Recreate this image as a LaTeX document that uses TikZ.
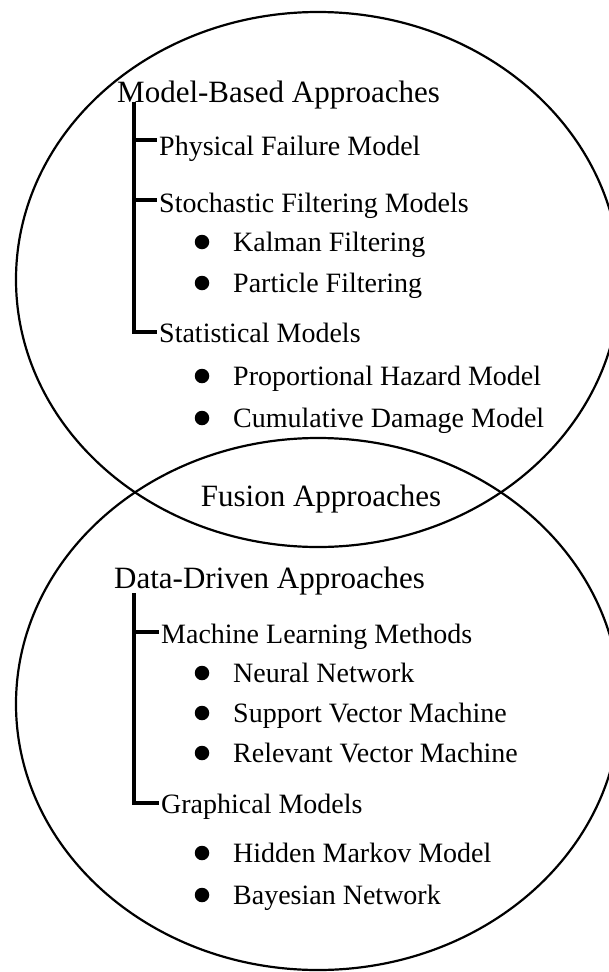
\documentclass[tikz,border=0pt]{standalone}
\usepackage{fontspec}
\setmainfont{Liberation Serif}
\begin{document}
\begin{tikzpicture}[x=1pt,y=-1pt,
  head/.style={anchor=base west,inner sep=0pt,font=\fontsize{31}{36}\selectfont},
  item/.style={anchor=base west,inner sep=0pt,font=\fontsize{28}{33}\selectfont},
  dotmark/.style={circle,fill=black,inner sep=0pt,minimum size=14.5pt},
  tree/.style={line width=3.4pt},
  venn/.style={line width=2.2pt}]
\useasboundingbox (0,0) rectangle (609,972);
\begin{scope}
\clip (0,0) rectangle (609,972);
\draw[venn] (318,279.5) ellipse [x radius=302, y radius=267.5];
\draw[venn] (318,704) ellipse [x radius=302, y radius=266];
\end{scope}
% top tree
\node[head] (mba) at (117,102) {Model-Based Approaches};
\node[item] (pfm) at (159,155) {Physical Failure Model};
\node[item] (sfm) at (159,212) {Stochastic Filtering Models};
\node[dotmark] (b1) at (202,242) {};
\node[item] (kf) at (233,251) {Kalman Filtering};
\node[dotmark] (b2) at (202,283) {};
\node[item] (pf) at (233,292) {Particle Filtering};
\node[item] (stm) at (159,342) {Statistical Models};
\node[dotmark] (b3) at (202,376) {};
\node[item] (phm) at (233,385) {Proportional Hazard Model};
\node[dotmark] (b4) at (202,418) {};
\node[item] (cdm) at (233,427) {Cumulative Damage Model};
\coordinate (t0) at (134,102);
\coordinate (t1) at (134,140);
\coordinate (t2) at (134,200);
\coordinate (t3) at (134,332);
\coordinate (e1) at (157,140);
\coordinate (e2) at (157,200);
\coordinate (e3) at (157,332);
\draw[tree] (t0) -- (t3) -- (e3);
\draw[tree] (t1) -- (e1);
\draw[tree] (t2) -- (e2);
% fusion
\node[anchor=base,inner sep=0pt,font=\fontsize{31}{36}\selectfont] (fa) at (321,506) {Fusion Approaches};
% bottom tree
\node[head] (dda) at (114,588) {Data-Driven Approaches};
\node[item] (mlm) at (161,643) {Machine Learning Methods};
\node[dotmark] (b5) at (202,673) {};
\node[item] (nn) at (233,682) {Neural Network};
\node[dotmark] (b6) at (202,713) {};
\node[item] (svm) at (233,722) {Support Vector Machine};
\node[dotmark] (b7) at (202,753) {};
\node[item] (rvm) at (233,762) {Relevant Vector Machine};
\node[item] (gm) at (161,813) {Graphical Models};
\node[dotmark] (b8) at (202,853) {};
\node[item] (hmm) at (233,862) {Hidden Markov Model};
\node[dotmark] (b9) at (202,895) {};
\node[item] (bn) at (233,904) {Bayesian Network};
\coordinate (u0) at (134,593);
\coordinate (u1) at (134,632);
\coordinate (u2) at (134,803);
\coordinate (f1) at (159,632);
\coordinate (f2) at (159,803);
\draw[tree] (u0) -- (u2) -- (f2);
\draw[tree] (u1) -- (f1);
\end{tikzpicture}
\end{document}
